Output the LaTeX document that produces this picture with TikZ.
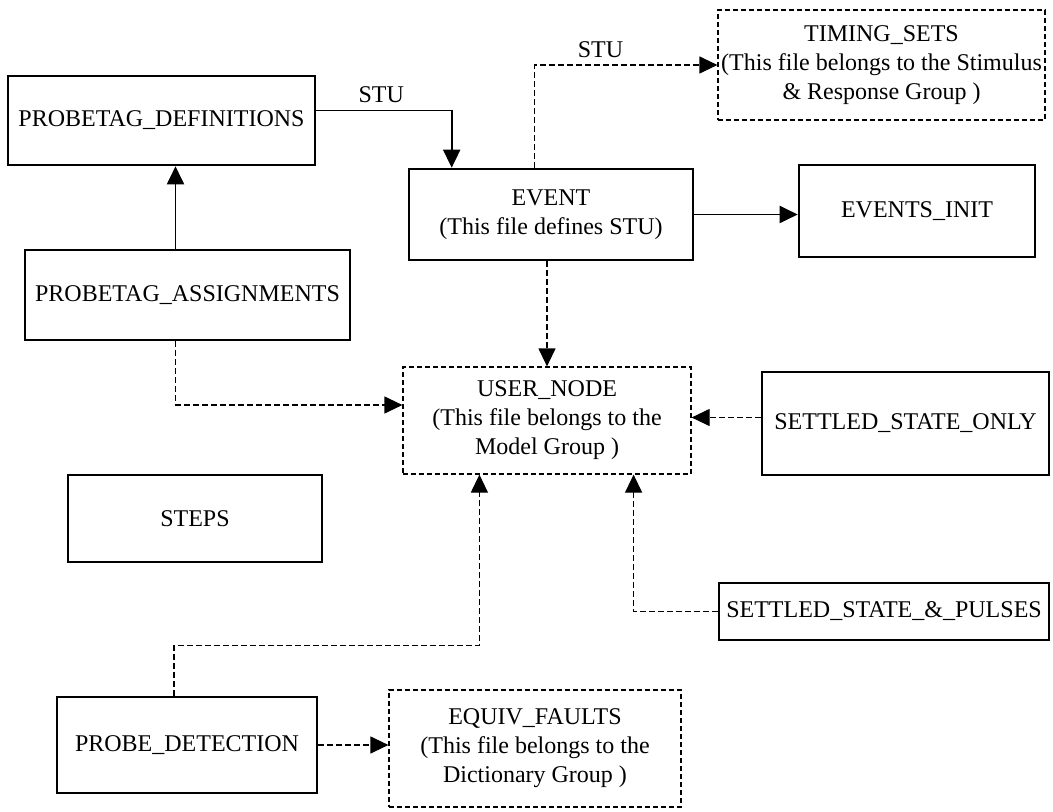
\documentclass[tikz,border=0pt]{standalone}
\usepackage{fontspec}
\setmainfont{Liberation Serif}
\usetikzlibrary{arrows.meta}

\begin{document}
\begin{tikzpicture}[x=0.5pt,y=-0.5pt,font=\fontsize{12}{14.5}\selectfont,
  filebox/.style={draw,line width=1.3pt,inner sep=0pt,align=center},
  groupbox/.style={draw,line width=0.6pt,dash pattern=on 2.5pt off 1.5pt,inner sep=0pt,align=center},
  link/.style={line width=0.95pt,-{Triangle[length=9pt,width=8.5pt]}},
  dashlink/.style={line width=0.6pt,dash pattern=on 3pt off 1.5pt,-{Triangle[length=9pt,width=8.5pt]}}]
  \useasboundingbox (0,0) rectangle (1053,812);

  % files
  \node[filebox,minimum width=153.5pt,minimum height=44.5pt] (pdef) at (161.5,120.5) {PROBETAG\_DEFINITIONS};
  \node[filebox,minimum width=142pt,minimum height=45.5pt] (event) at (551,214.5) {EVENT\\(This file defines STU)};
  \node[groupbox,minimum width=163.5pt,minimum height=55pt] (timing) at (881.5,65) {TIMING\_SETS\\(This file belongs to the Stimulus\\\& Response Group )};
  \node[filebox,minimum width=118pt,minimum height=46pt] (init) at (917,211) {EVENTS\_INIT};
  \node[filebox,minimum width=162.5pt,minimum height=45pt] (pa) at (187.5,295) {PROBETAG\_ASSIGNMENTS};
  \node[groupbox,minimum width=144pt,minimum height=53.5pt] (user) at (547,420.5) {USER\_NODE\\(This file belongs to the\\Model Group )};
  \node[filebox,minimum width=143.5pt,minimum height=51.5pt] (sso) at (905.5,423.5) {SETTLED\_STATE\_ONLY};
  \node[filebox,minimum width=127pt,minimum height=43.5pt] (steps) at (195,518.5) {STEPS};
  \node[filebox,minimum width=165pt,minimum height=28.5pt] (ssp) at (884,611.5) {SETTLED\_STATE\_\&\_PULSES};
  \node[filebox,minimum width=130pt,minimum height=48pt] (pd) at (187,745) {PROBE\_DETECTION};
  \node[groupbox,minimum width=146pt,minimum height=58.5pt] (ef) at (535,748.5) {EQUIV\_FAULTS\\(This file belongs to the\\Dictionary Group )};

  % connection points
  \coordinate (pa top) at ([xshift=-6pt]pa.north);
  \coordinate (pa bottom) at ([xshift=-6pt]pa.south);
  \coordinate (pd top) at ([xshift=-6.5pt]pd.north);
  \coordinate (sso in) at ([yshift=3pt]sso.west);

  % solid links
  \draw[link] ([yshift=5pt]pdef.east) -| ([xshift=22pt]event.north west) node[above,pos=0.24] {STU};
  \draw[link] (pa top) -- (pa top |- pdef.south);
  \draw[link] (event.east) -- (event.east -| init.west);

  % dashed links
  \draw[dashlink] ([xshift=63.5pt]event.north west) |- (timing.west) node[above,pos=0.68] {STU};
  \draw[dashlink] (user.north |- event.south) -- (user.north);
  \draw[dashlink] (pa bottom) |- ([yshift=7.75pt]user.west);
  \draw[dashlink] (sso in) -- (sso in -| user.east);
  \draw[dashlink] (ssp.west) -| ([xshift=-29pt]user.south east);
  \draw[dashlink] (pd top) -- ++(0,25pt) -| ([xshift=38.5pt]user.south west);
  \draw[dashlink] (pd.east) -- (pd.east -| ef.west);
\end{tikzpicture}
\end{document}
